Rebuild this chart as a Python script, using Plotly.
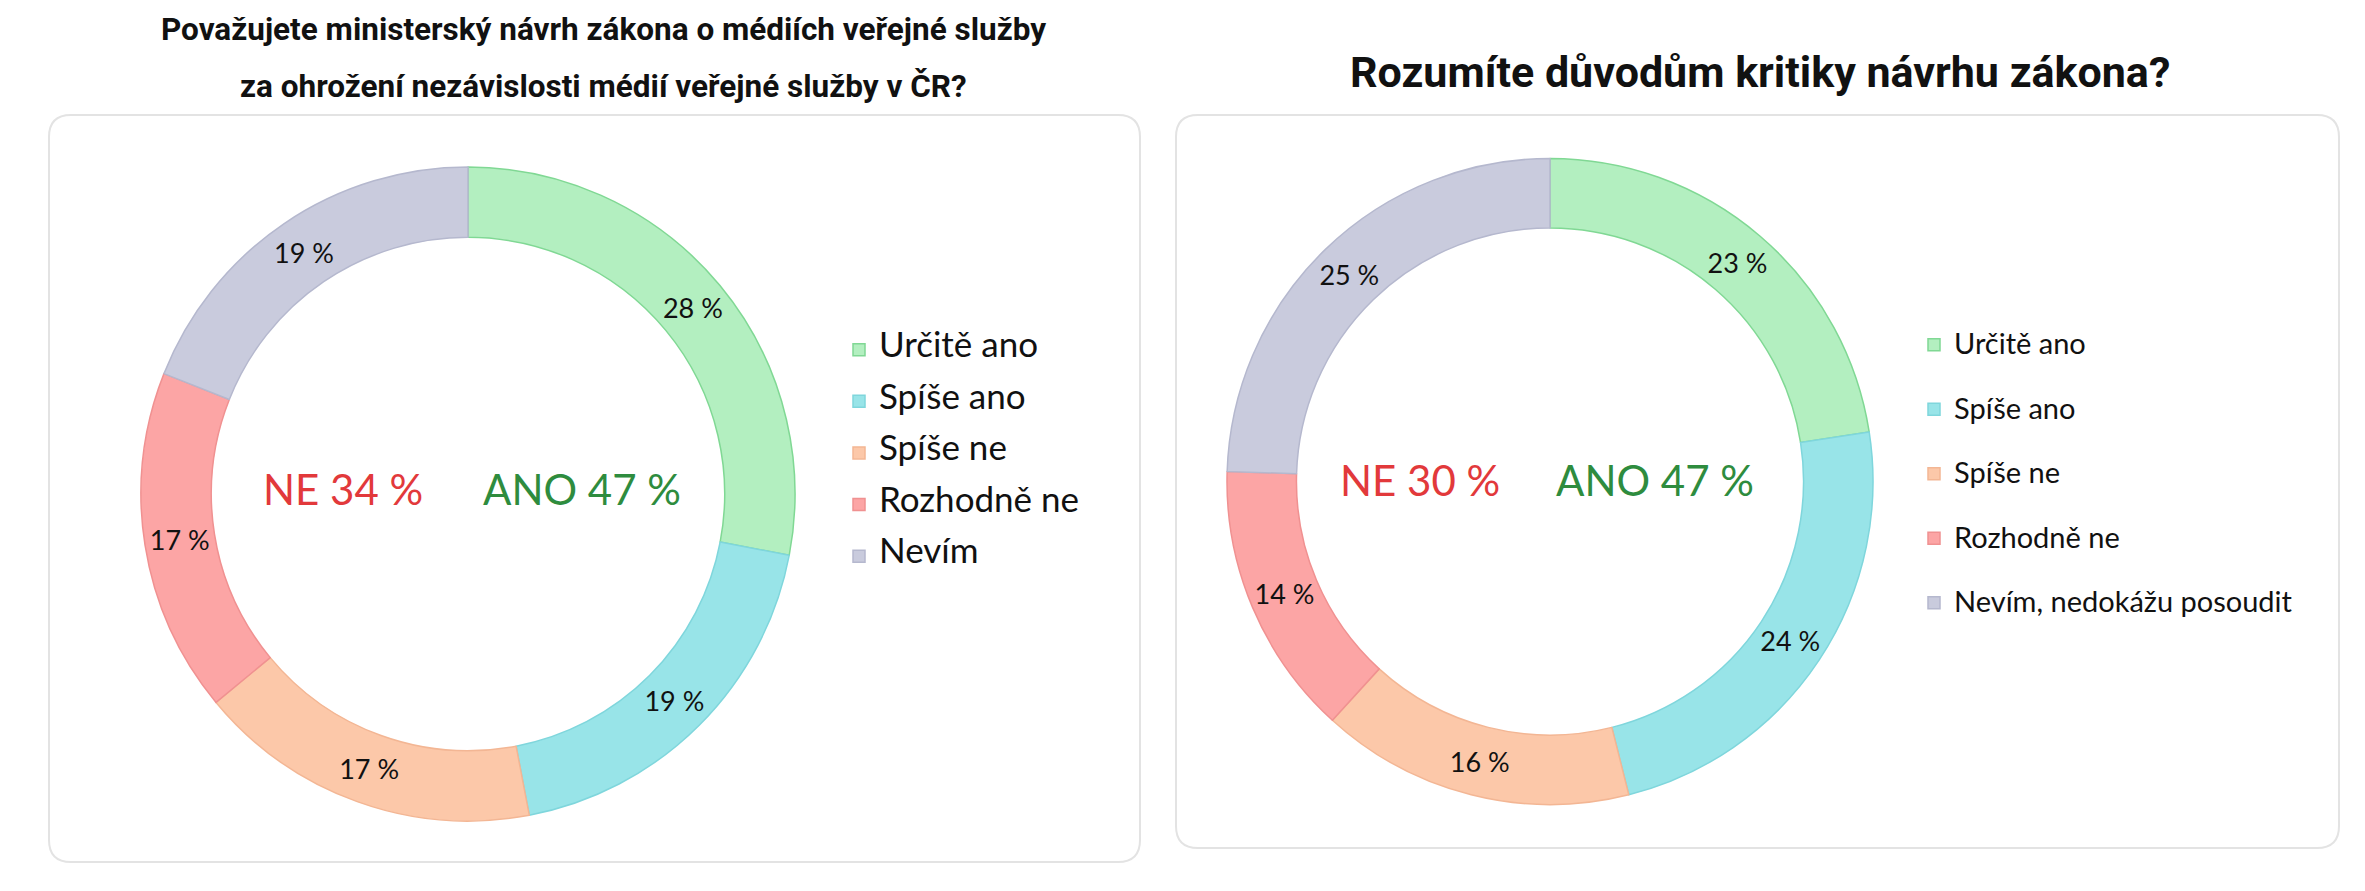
import plotly.graph_objects as go

# ---------------- data ----------------
categories_left = ["Určitě ano", "Spíše ano", "Spíše ne", "Rozhodně ne", "Nevím"]
values_left = [28, 19, 17, 17, 19]

categories_right = ["Určitě ano", "Spíše ano", "Spíše ne", "Rozhodně ne", "Nevím, nedokážu posoudit"]
values_right = [23, 24, 16, 14, 25]

title_left_lines = [
    "Považujete ministerský návrh zákona o médiích veřejné služby",
    "za ohrožení nezávislosti médií veřejné služby v ČR?",
]
title_right = "Rozumíte důvodům kritiky návrhu zákona?"

yes_idx = [0, 1]
no_idx = [2, 3]

# ---------------- style ----------------
W, H = 2365, 891
fill_colors = ["#b3efc0", "#98e4e8", "#fcc8a9", "#fca5a5", "#c9cbdd"]
line_colors = ["#80d894", "#7fd6dc", "#f3b694", "#f09191", "#b5b8ce"]
RED = "#e2393b"
GREEN = "#2e8c3e"
FONT = "Lato"
TITLE_FONT = "Roboto"


def px(x):
    return x / W


def py(y):
    return 1 - y / H


def legend_labels(cats, size):
    return [f"<span style='font-size:{size}px'>{c}</span><br> " for c in cats]


def rrect(x0, y0, x1, y1, r):
    return (
        f"M {px(x0 + r)},{py(y0)} L {px(x1 - r)},{py(y0)} "
        f"Q {px(x1)},{py(y0)} {px(x1)},{py(y0 + r)} "
        f"L {px(x1)},{py(y1 - r)} Q {px(x1)},{py(y1)} {px(x1 - r)},{py(y1)} "
        f"L {px(x0 + r)},{py(y1)} Q {px(x0)},{py(y1)} {px(x0)},{py(y1 - r)} "
        f"L {px(x0)},{py(y0 + r)} Q {px(x0)},{py(y0)} {px(x0 + r)},{py(y0)} Z"
    )


fig = go.Figure()

# left donut: centre (468, 494), radius 327
fig.add_trace(go.Pie(
    labels=legend_labels(categories_left, 35),
    values=values_left,
    text=[f"{v} %" for v in values_left],
    textinfo="text",
    textposition="inside",
    insidetextorientation="horizontal",
    textfont=dict(family=FONT, size=27, color="#111111"),
    hole=0.785,
    sort=False,
    direction="clockwise",
    rotation=0,
    marker=dict(colors=fill_colors, line=dict(color=line_colors, width=1.5)),
    domain=dict(x=[px(141), px(795)], y=[py(821), py(167)]),
    legend="legend",
    hoverinfo="label+percent",
))

# right donut: centre (1550, 481.5), radius 323
fig.add_trace(go.Pie(
    labels=legend_labels(categories_right, 29),
    values=values_right,
    text=[f"{v} %" for v in values_right],
    textinfo="text",
    textposition="inside",
    insidetextorientation="horizontal",
    textfont=dict(family=FONT, size=27, color="#111111"),
    hole=0.785,
    sort=False,
    direction="clockwise",
    rotation=0,
    marker=dict(colors=fill_colors, line=dict(color=line_colors, width=1.5)),
    domain=dict(x=[px(1227), px(1873)], y=[py(804.5), py(158.5)]),
    legend="legend2",
    hoverinfo="label+percent",
))

annotations = [
    dict(text=f"<b>{title_left_lines[0]}</b>", x=px(603), y=py(30)),
    dict(text=f"<b>{title_left_lines[1]}</b>", x=px(603), y=py(86)),
]
for a in annotations:
    a.update(font=dict(family=TITLE_FONT, size=31.5, color="#111111"))
annotations.append(dict(text=f"<b>{title_right}</b>", x=px(1760), y=py(72),
                        font=dict(family=TITLE_FONT, size=43, color="#111111")))

ne_l = sum(values_left[i] for i in no_idx)
ano_l = sum(values_left[i] for i in yes_idx)
ne_r = sum(values_right[i] for i in no_idx)
ano_r = sum(values_right[i] for i in yes_idx)
annotations += [
    dict(text=f"NE {ne_l} %", x=px(343), y=py(489), font=dict(family=FONT, size=42, color=RED)),
    dict(text=f"ANO {ano_l} %", x=px(582), y=py(489), font=dict(family=FONT, size=42, color=GREEN)),
    dict(text=f"NE {ne_r} %", x=px(1420), y=py(480), font=dict(family=FONT, size=42, color=RED)),
    dict(text=f"ANO {ano_r} %", x=px(1655), y=py(480), font=dict(family=FONT, size=42, color=GREEN)),
]
for a in annotations:
    a.update(xref="paper", yref="paper", xanchor="center", yanchor="middle", showarrow=False)

shapes = [
    dict(type="path", path=rrect(49, 115, 1140, 862, 22)),
    dict(type="path", path=rrect(1176, 115, 2339, 848, 22)),
]
for s in shapes:
    s.update(xref="paper", yref="paper", line=dict(color="#e3e3e3", width=2),
             fillcolor="white", layer="below")

fig.update_layout(
    width=W, height=H,
    margin=dict(l=0, r=0, t=0, b=0),
    paper_bgcolor="white",
    plot_bgcolor="white",
    showlegend=True,
    legend=dict(x=px(839), y=py(331), xanchor="left", yanchor="top",
                font=dict(family=FONT, size=18.7, color="#111111"),
                valign="top", bgcolor="rgba(0,0,0,0)", borderwidth=0),
    legend2=dict(x=px(1914), y=py(323), xanchor="left", yanchor="top",
                 font=dict(family=FONT, size=23.65, color="#111111"),
                 valign="top", bgcolor="rgba(0,0,0,0)", borderwidth=0),
    annotations=annotations,
    shapes=shapes,
)

fig.write_html("out.html")
